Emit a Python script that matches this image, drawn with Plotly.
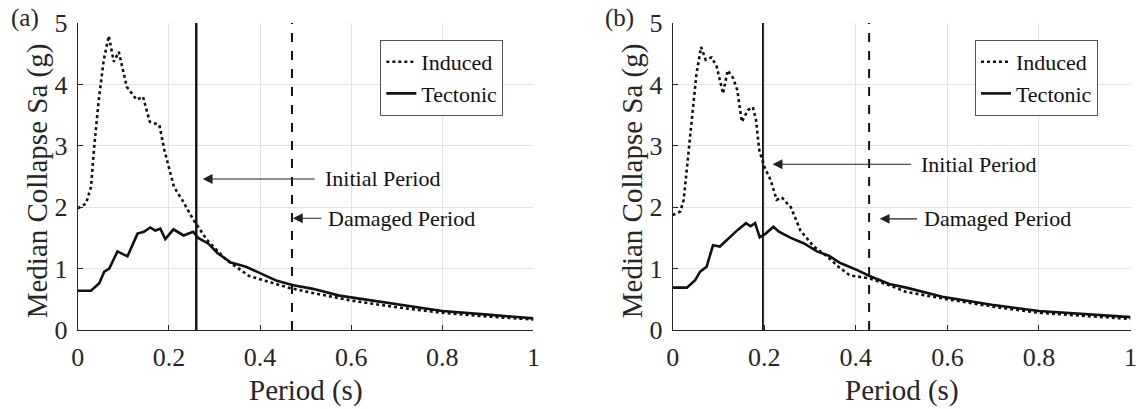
import plotly.graph_objects as go

# ---- data: median collapse Sa versus period, panel (a) and panel (b) ----
period_a_induced = [0, 0.018, 0.029, 0.036, 0.046, 0.057, 0.068, 0.079, 0.09, 0.1075, 0.129,
                    0.143, 0.158, 0.179, 0.19, 0.211, 0.229, 0.254, 0.283, 0.326, 0.376,
                    0.423, 0.462, 0.511, 0.574, 0.6, 0.7, 0.8, 0.9, 1.0]
sa_a_induced = [1.98, 2.06, 2.33, 2.99, 3.75, 4.4, 4.79, 4.37, 4.53, 3.96, 3.75,
                3.8, 3.39, 3.34, 2.93, 2.33, 2.12, 1.79, 1.47, 1.14, 0.88,
                0.78, 0.69, 0.61, 0.51, 0.48, 0.37, 0.28, 0.22, 0.17]

period_a_tectonic = [0, 0.029, 0.047, 0.058, 0.069, 0.087, 0.109, 0.131, 0.145, 0.159, 0.17,
                     0.181, 0.192, 0.21, 0.232, 0.253, 0.264, 0.286, 0.307, 0.336, 0.369,
                     0.394, 0.437, 0.473, 0.516, 0.574, 0.6, 0.7, 0.8, 0.9, 1.0]
sa_a_tectonic = [0.64, 0.64, 0.76, 0.95, 1.0, 1.28, 1.2, 1.57, 1.6, 1.67, 1.62,
                 1.65, 1.48, 1.64, 1.54, 1.6, 1.5, 1.41, 1.25, 1.1, 1.03,
                 0.95, 0.8, 0.73, 0.67, 0.56, 0.53, 0.42, 0.31, 0.25, 0.19]

period_b_induced = [0, 0.0165, 0.024, 0.035, 0.045, 0.052, 0.062, 0.072, 0.085, 0.096, 0.11,
                    0.12, 0.132, 0.141, 0.151, 0.164, 0.175, 0.182, 0.189, 0.2, 0.214,
                    0.227, 0.238, 0.258, 0.279, 0.308, 0.337, 0.362, 0.387, 0.43, 0.473,
                    0.51, 0.6, 0.7, 0.8, 0.9, 1.0]
sa_b_induced = [1.87, 1.93, 2.12, 2.93, 3.64, 4.18, 4.61, 4.4, 4.44, 4.29, 3.85,
                4.23, 4.1, 3.91, 3.39, 3.58, 3.63, 3.42, 2.93, 2.66, 2.44,
                2.12, 2.16, 2.0, 1.62, 1.36, 1.2, 1.03, 0.89, 0.84, 0.73,
                0.62, 0.5, 0.38, 0.28, 0.23, 0.18]

period_b_tectonic = [0, 0.031, 0.049, 0.06, 0.074, 0.088, 0.103, 0.121, 0.142, 0.16, 0.17,
                     0.18, 0.19, 0.203, 0.22, 0.232, 0.258, 0.287, 0.315, 0.341, 0.366,
                     0.402, 0.43, 0.473, 0.51, 0.589, 0.697, 0.8, 0.9, 1.0]
sa_b_tectonic = [0.69, 0.69, 0.81, 0.95, 1.03, 1.38, 1.36, 1.49, 1.63, 1.74, 1.69,
                 1.74, 1.51, 1.57, 1.68, 1.6, 1.5, 1.41, 1.28, 1.21, 1.09,
                 0.98, 0.88, 0.75, 0.69, 0.54, 0.41, 0.31, 0.26, 0.21]

# fundamental periods of the building (initial / damaged)
initial_period = [0.26, 0.197]
damaged_period = [0.47, 0.429]

x_ticks = [0, 0.2, 0.4, 0.6, 0.8, 1]
x_tick_text = ["0", "0.2", "0.4", "0.6", "0.8", "1"]
y_ticks = [0, 1, 2, 3, 4, 5]
y_tick_text = ["0", "1", "2", "3", "4", "5"]

panel_labels = ["(a)", "(b)"]
series_names = ["Induced", "Tectonic"]

FONT = "'Times New Roman', 'Liberation Serif', Times, serif"
INK = "#262626"
GRID = "#e3e3e3"
W, H = 1139, 409
M_T, M_B = 23, 79
plot_h = H - M_T - M_B

# pixel extents of each panel
panel_px = [(71.7, 533.0), (674.0, 1137.5)]

fig = go.Figure()

panels = [
    (period_a_induced, sa_a_induced, period_a_tectonic, sa_a_tectonic),
    (period_b_induced, sa_b_induced, period_b_tectonic, sa_b_tectonic),
]

for i, (xi, yi, xt, yt) in enumerate(panels):
    xa = "x" if i == 0 else "x2"
    ya = "y" if i == 0 else "y2"
    lg = "legend" if i == 0 else "legend2"
    fig.add_trace(go.Scatter(x=xi, y=yi, mode="lines", name=series_names[0],
                             line=dict(color="#111111", width=2.6, dash="dot"),
                             xaxis=xa, yaxis=ya, legend=lg))
    fig.add_trace(go.Scatter(x=xt, y=yt, mode="lines", name=series_names[1],
                             line=dict(color="#111111", width=2.6),
                             xaxis=xa, yaxis=ya, legend=lg))

axis_common = dict(
    range=[0, 1], tickvals=x_ticks, ticktext=x_tick_text,
    showgrid=True, gridcolor=GRID, gridwidth=1,
    showline=True, linecolor=INK, linewidth=1.2, mirror=False,
    ticks="inside", ticklen=5, tickcolor=INK, tickwidth=1,
    tickfont=dict(family=FONT, size=26, color=INK),
    zeroline=False, ticklabelstandoff=4,
)
yaxis_common = dict(
    range=[0, 5], tickvals=y_ticks, ticktext=y_tick_text,
    showgrid=True, gridcolor=GRID, gridwidth=1,
    showline=True, linecolor=INK, linewidth=1.2, mirror=False,
    ticks="inside", ticklen=5, tickcolor=INK, tickwidth=1,
    tickfont=dict(family=FONT, size=26, color=INK),
    zeroline=False, ticklabelstandoff=4,
)

doms = [[p[0] / W, p[1] / W] for p in panel_px]

legend_style = dict(yanchor="top", xanchor="left", y=(H - M_B - 40) / plot_h,
                    bgcolor="white", bordercolor="#555555", borderwidth=1,
                    font=dict(family=FONT, size=22, color="#111111"),
                    tracegroupgap=0, itemwidth=30)

fig.update_layout(
    width=W, height=H,
    margin=dict(l=0, r=0, t=M_T, b=M_B),
    paper_bgcolor="white", plot_bgcolor="white",
    font=dict(family=FONT, color=INK),
    xaxis=dict(domain=doms[0], anchor="y", **axis_common),
    yaxis=dict(domain=[0, 1], anchor="x", **yaxis_common),
    xaxis2=dict(domain=doms[1], anchor="y2", **axis_common),
    yaxis2=dict(domain=[0, 1], anchor="x2", **yaxis_common),
    legend=dict(x=378 / W, **legend_style),
    legend2=dict(x=980 / W, **legend_style),
    showlegend=True,
)

shapes = []
annotations = []
for i in range(2):
    xa = "x" if i == 0 else "x2"
    ya = "y" if i == 0 else "y2"
    shapes.append(dict(type="line", xref=xa, yref=ya, x0=initial_period[i], x1=initial_period[i],
                       y0=0, y1=5, line=dict(color="#111111", width=2.4 if i == 0 else 1.8)))
    shapes.append(dict(type="line", xref=xa, yref=ya, x0=damaged_period[i], x1=damaged_period[i],
                       y0=0, y1=5, line=dict(color="#111111", width=2, dash="dash")))

# arrows and labels pointing at the periods
arrow_specs = [
    # (panel, head_x, head_y, tail_x, text_x, label)
    (0, 0.274, 2.46, 0.523, 0.539, "Initial Period"),
    (0, 0.472, 1.82, 0.538, 0.545, "Damaged Period"),
    (1, 0.218, 2.70, 0.524, 0.537, "Initial Period"),
    (1, 0.452, 1.81, 0.537, 0.545, "Damaged Period"),
]
for p, hx, hy, tx, lx, label in arrow_specs:
    xa = "x" if p == 0 else "x2"
    ya = "y" if p == 0 else "y2"
    annotations.append(dict(x=hx, y=hy, xref=xa, yref=ya, ax=tx, ay=hy, axref=xa, ayref=ya,
                            text="", showarrow=True, arrowhead=2, arrowsize=1.8,
                            arrowwidth=1.1, arrowcolor="#222222"))
    annotations.append(dict(x=lx, y=hy, xref=xa, yref=ya, text=label, showarrow=False,
                            xanchor="left", yanchor="middle",
                            font=dict(family=FONT, size=22, color="#111111")))

# panel letters
for i, px in enumerate([2, 603]):
    annotations.append(dict(x=px / W, y=(H - M_B - 2) / plot_h, xref="paper", yref="paper",
                            text=panel_labels[i], showarrow=False, xanchor="left", yanchor="top",
                            font=dict(family=FONT, size=25, color=INK)))

# axis titles
for i in range(2):
    x0, x1 = panel_px[i]
    annotations.append(dict(x=(x0 - 41) / W, y=(H - M_B - 181) / plot_h, xref="paper", yref="paper",
                            text="Median Collapse Sa (g)", textangle=-90, showarrow=False,
                            xanchor="center", yanchor="middle",
                            font=dict(family=FONT, size=29, color=INK)))
    annotations.append(dict(x=(x0 + x1) / 2 / W, y=(H - M_B - 390) / plot_h, xref="paper",
                            yref="paper", text="Period (s)", showarrow=False,
                            xanchor="center", yanchor="middle",
                            font=dict(family=FONT, size=29, color=INK)))

fig.update_layout(shapes=shapes, annotations=annotations)

fig.write_html("out.html")
